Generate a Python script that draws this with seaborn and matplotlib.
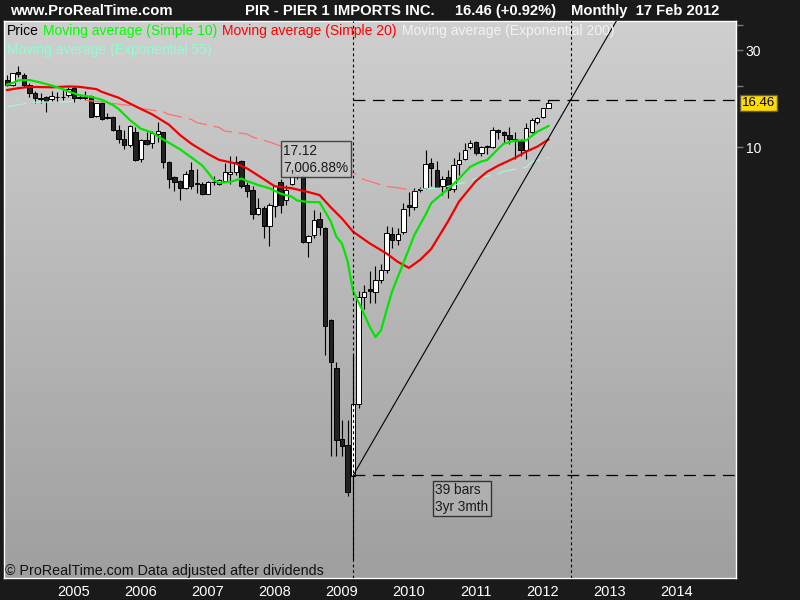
import numpy as np
import matplotlib
matplotlib.use("Agg")
import matplotlib.pyplot as plt
import matplotlib.transforms as mtransforms
from matplotlib.colors import LinearSegmentedColormap
from matplotlib.patches import Rectangle
from matplotlib.ticker import NullLocator, NullFormatter
import seaborn as sns

plt.rcParams['font.family'] = ['Liberation Sans', 'DejaVu Sans']
plt.rcParams['lines.scale_dashes'] = False

# monthly bars, index 0 = Jan 2004 ... 97 = Feb 2012
opens = [21.5, 20.3, 23.5, 22.6, 20.3, 18.5, 17.3, 17.6, 17.2, 17.6, 17.7, 18.0,
         19.5, 17.4, 17.6, 17.9, 14.3, 16.4, 14.0, 14.0, 12.2, 11.0, 10.2, 11.8,
         8.7, 10.8, 10.5, 11.55, 11.8, 8.4, 7.1, 6.8, 6.3, 7.7, 6.6, 6.6,
         5.9, 6.7, 6.6, 6.8, 7.4, 7.5, 8.5, 6.5, 6.15, 4.7, 5.0, 4.1,
         5.15, 6.75, 5.5, 6.6, 7.3, 7.2, 3.42, 3.7, 4.4, 4.0, 1.40, 0.82,
         0.365, 0.34, 0.24, 0.545, 1.83, 2.0, 1.94, 2.21, 2.48, 3.75, 3.48, 3.82,
         5.18, 5.06, 6.15, 6.3, 8.3, 7.7, 6.4, 7.1, 6.2, 8.25, 8.7, 10.0,
         10.6, 9.3, 9.97, 10.0, 12.2, 11.9, 11.45, 10.9, 10.75, 9.7, 11.8, 13.3,
         14.1, 15.6]
highs = [22.6, 23.3, 25.0, 23.2, 20.6, 18.8, 18.4, 17.8, 18.8, 18.6, 19.0, 19.7,
         19.9, 18.2, 18.9, 18.0, 16.5, 16.6, 14.7, 14.2, 12.8, 12.1, 12.8, 12.6,
         10.9, 11.9, 12.0, 13.3, 11.9, 8.5, 7.2, 6.9, 7.6, 8.4, 7.8, 6.7,
         6.8, 7.2, 7.0, 8.3, 9.0, 9.0, 8.6, 6.7, 6.4, 5.6, 5.1, 5.3,
         6.5, 7.0, 6.5, 7.6, 8.3, 7.4, 3.7, 4.9, 4.8, 4.05, 1.42, 0.87,
         0.45, 0.45, 0.95, 1.95, 2.08, 2.45, 2.6, 2.65, 4.1, 4.05, 4.0, 5.3,
         6.0, 6.3, 6.35, 9.7, 8.8, 8.5, 7.2, 7.7, 8.8, 9.5, 10.5, 10.8,
         10.7, 10.1, 10.2, 12.5, 12.3, 12.0, 12.5, 11.9, 10.9, 13.1, 13.9, 14.0,
         15.6, 17.1]
lows = [19.9, 20.0, 22.2, 19.7, 17.7, 16.4, 16.4, 14.9, 16.9, 16.9, 17.0, 17.7,
        16.6, 17.2, 17.0, 14.0, 14.0, 13.6, 13.7, 12.0, 10.5, 9.75, 10.0, 8.55,
        8.4, 10.2, 9.9, 10.6, 7.85, 6.3, 6.1, 5.5, 6.2, 6.25, 5.95, 5.8,
        5.85, 6.5, 6.5, 6.8, 6.6, 7.3, 6.3, 5.7, 4.4, 4.65, 3.55, 3.25,
        4.5, 4.75, 5.2, 6.5, 7.0, 3.35, 2.88, 3.56, 3.7, 0.95, 0.30, 0.30,
        0.30, 0.19, 0.093, 0.52, 1.6, 1.7, 1.7, 2.15, 2.4, 3.17, 3.3, 3.75,
        4.55, 4.9, 6.0, 6.2, 6.4, 6.3, 5.8, 5.6, 6.0, 7.3, 8.6, 9.8,
        9.1, 9.0, 9.2, 9.9, 11.0, 10.5, 10.3, 8.7, 9.0, 8.7, 11.7, 13.0,
        13.9, 15.5]
closes = [20.3, 23.2, 23.0, 20.3, 18.4, 17.4, 17.5, 16.9, 17.8, 17.7, 17.6, 19.4,
          17.4, 17.7, 17.5, 14.1, 16.4, 13.8, 13.9, 12.1, 11.0, 10.2, 12.7, 8.6,
          10.8, 10.4, 11.7, 12.0, 8.4, 6.95, 6.7, 6.3, 7.4, 6.4, 6.6, 5.9,
          6.75, 6.75, 6.9, 7.5, 7.5, 8.45, 6.4, 6.1, 4.7, 5.0, 4.1, 5.2,
          6.4, 5.2, 6.15, 7.3, 7.9, 3.42, 3.65, 4.37, 4.05, 1.32, 0.87, 0.36,
          0.335, 0.20, 0.545, 1.83, 1.93, 1.95, 2.22, 2.48, 3.78, 3.48, 3.72, 4.98,
          5.06, 6.1, 6.25, 8.25, 7.85, 6.35, 6.95, 6.15, 8.15, 8.6, 9.7, 10.5,
          9.3, 10.0, 10.1, 12.1, 11.8, 11.45, 10.95, 10.75, 9.7, 12.4, 13.6, 13.9,
          15.5, 16.46]

years = list(range(2005, 2015))

# moving averages (month index, value)
sma10_m = [0, 1, 2, 4, 6, 8, 10, 11, 13, 15, 17, 19, 20, 22, 24, 26, 27, 29, 31, 33,
           35, 36, 37, 38, 40, 42, 43, 45, 47, 49, 51, 52, 54, 56, 57, 58, 59, 60, 61, 62,
           63, 65, 66, 67, 68, 69, 71, 73, 75, 76, 78, 79, 81, 83, 85, 86, 88, 89, 91, 93,
           95, 97]
sma10 = [20.3, 20.7, 21.3, 21.4, 20.8, 20.1, 19.3, 18.8, 18.0, 17.7, 17.1, 16.1, 15.4, 13.6,
         12.3, 11.8, 11.3, 10.5, 9.75, 8.9, 8.1, 7.5, 6.9, 6.66, 6.74, 7.0, 6.8, 6.5, 6.27,
         5.9, 5.7, 5.45, 5.36, 5.35, 4.8, 4.3, 3.62, 3.35, 2.75, 1.95, 1.72, 1.30, 1.16,
         1.25, 1.57, 1.95, 2.68, 3.7, 4.65, 5.3, 5.9, 6.2, 7.0, 8.0, 8.5, 8.63, 9.8, 10.4,
         10.75, 10.8, 11.9, 12.7]
sma20_m = [0, 2, 4, 8, 11, 13, 16, 17, 20, 22, 24, 26, 29, 31, 33, 36, 38, 41, 43, 46,
           48, 51, 54, 56, 58, 60, 62, 65, 68, 70, 72, 74, 76, 79, 81, 84, 86, 88, 91, 93,
           95, 97]
sma20 = [19.1, 19.5, 19.8, 19.7, 19.9, 19.8, 19.3, 18.7, 17.5, 16.4, 15.4, 14.5, 12.9, 11.46,
         10.4, 9.25, 8.65, 8.3, 7.85, 6.95, 6.4, 6.27, 6.0, 5.8, 5.05, 4.45, 3.83, 3.35,
         2.99, 2.72, 2.54, 2.78, 3.15, 4.3, 5.4, 6.8, 7.55, 8.1, 8.85, 9.5, 10.05, 10.9]
ema200_m = [14, 17, 19, 23, 24, 28, 29, 33, 34, 38, 39, 43, 44, 47, 62, 64, 68, 70, 73]
ema200 = [17.0, 16.7, 16.4, 15.9, 15.5, 14.9, 14.5, 13.7, 13.2, 12.5, 12.0, 11.6, 11.2,
          10.6, 7.5, 6.9, 6.4, 6.3, 6.1]
ema55_early_m = [0, 3, 4, 8, 9, 12]
ema55_early = [15.8, 16.3, 16.6, 16.7, 16.6, 16.8]
ema55_late_m = [74, 78, 80, 83, 84, 88, 89, 93, 94, 97]
ema55_late = [6.2, 6.3, 6.5, 6.8, 7.0, 7.37, 7.6, 7.95, 8.45, 8.9]

# measurement tool: Mar 2009 -> Jun 2012
start_bar, end_bar = 62, 101
start_val, end_val = 0.2409, 17.12

W, H = 800, 600


def fpos(x, y):
    return x / W, 1 - y / H


fig = plt.figure(figsize=(8, 6), dpi=100, facecolor='#1a1a1a')
left, right, top, bottom = 4, 736, 21, 578
rect = [left / W, 1 - bottom / H, (right - left) / W, (bottom - top) / H]

bg = fig.add_axes(rect, zorder=0)
grad = LinearSegmentedColormap.from_list('bg', ['#cfcfcf', '#9f9f9f'])
bg.imshow(np.linspace(0, 1, 256).reshape(-1, 1), cmap=grad, aspect='auto', extent=[0, 1, 0, 1])
bg.set_xlim(0, 1)
bg.set_ylim(0, 1)
bg.axis('off')

ax = fig.add_axes(rect, zorder=1)
ax.patch.set_alpha(0)
ax.set_yscale('log')

# candles
months = np.arange(len(closes))
o = np.array(opens)
c = np.array(closes)
up = c >= o
ax.vlines(months, lows, highs, color='black', lw=0.8, zorder=3)
ax.bar(months, np.maximum(np.abs(c - o), 0.004 * c), bottom=np.minimum(o, c), width=0.78,
       color=np.where(up, 'white', '#222222'), edgecolor='black', lw=0.7, zorder=4)

# moving averages
sns.lineplot(x=ema200_m, y=ema200, ax=ax, color='#ff7070', lw=0.9, linestyle=(0, (14, 5)), zorder=5)
sns.lineplot(x=ema55_early_m, y=ema55_early, ax=ax, color='#a8f5d2', lw=0.9, linestyle=(0, (14, 5)), zorder=5)
sns.lineplot(x=ema55_late_m, y=ema55_late, ax=ax, color='#a8f5d2', lw=0.9, linestyle=(0, (14, 5)), zorder=5)
sns.lineplot(x=sma20_m, y=sma20, ax=ax, color='#f00000', lw=1.6, zorder=6)
sns.lineplot(x=sma10_m, y=sma10, ax=ax, color='#00e600', lw=1.6, zorder=6)

xmin, xmax = -0.54, 130.6
ymin, ymax = 0.0753, 41.8

# measurement lines
for b in (start_bar, end_bar):
    ax.axvline(b, color='black', lw=0.8, linestyle=(0, (2, 2)), zorder=7)
ax.hlines([end_val, start_val], start_bar, xmax, colors='black', lw=0.9,
          linestyles=[(0, (8.5, 5.5))], zorder=7)
slope = np.log10(end_val / start_val) / (end_bar - start_bar)
far_bar = 118
ax.plot([start_bar, far_bar], [start_val, start_val * 10 ** (slope * (far_bar - start_bar))],
        color='black', lw=0.8, zorder=7)

ax.set_xlim(xmin, xmax)
ax.set_ylim(ymin, ymax)

# axes styling
ax.yaxis.tick_right()
ax.set_yticks([10, 20, 30, 40])
ax.set_yticklabels(['10', '', '30', ''])
ax.yaxis.set_minor_locator(NullLocator())
ax.yaxis.set_minor_formatter(NullFormatter())
ax.tick_params(axis='y', colors='#7a7a7a', labelcolor='white', length=5, width=1, labelsize=10, pad=2)
ax.set_xticks([12 * (y - 2004) for y in years])
ax.set_xticklabels([str(y) for y in years])
ax.tick_params(axis='x', length=0, labelcolor='white', labelsize=10.5, pad=5)
ax.set_xlabel('')
ax.set_ylabel('')
for s in ax.spines.values():
    s.set_color('white')
    s.set_linewidth(1)

# last price tag
blend = mtransforms.blended_transform_factory(ax.transAxes, ax.transData)
ax.text(1.0075, closes[-1], f'{closes[-1]:.2f}', transform=blend, ha='left', va='center',
        fontsize=9.5, color='black',
        bbox=dict(boxstyle='square,pad=0.15', fc='#ffdc00', ec='#5a5a5a', lw=1), clip_on=False)

# header
hdr = dict(color='white', fontsize=10.6, fontweight='bold', va='center')
fig.text(*fpos(10, 11), 'www.ProRealTime.com', **hdr)
fig.text(*fpos(245, 11), 'PIR - PIER 1 IMPORTS INC.', **hdr)
fig.text(*fpos(455, 11), '16.46 (+0.92%)', **hdr)
fig.text(*fpos(571, 11), 'Monthly  17 Feb 2012', **hdr)

# indicator legend
legend_row1 = [(7, 'Price', 'black'),
               (43, 'Moving average (Simple 10)', '#00ff00'),
               (222, 'Moving average (Simple 20)', '#ff0000'),
               (402, 'Moving average (Exponential 200)', '#f2f2f2')]
for x, label, col in legend_row1:
    fig.text(*fpos(x, 31), label, color=col, fontsize=10, va='center', zorder=5)
fig.text(*fpos(7, 50), 'Moving average (Exponential 55)', color='#8fffd0', fontsize=10, va='center', zorder=5)

fig.text(*fpos(5, 571), '\u00a9 ProRealTime.com Data adjusted after dividends', color='#111111',
         fontsize=10.3, va='center', zorder=5)

# measurement boxes
ax.add_patch(Rectangle(fpos(281, 177), 70 / W, 36 / H, transform=fig.transFigure, fc='#c6c6c6',
                       ec='#3a3a3a', lw=1, alpha=0.93, zorder=10, clip_on=False))
ax.text(*fpos(283, 151), f'{end_val:.2f}', transform=fig.transFigure, fontsize=9.8,
        color='#1a1a1a', va='center', zorder=11)
ax.text(*fpos(283, 168), '7,006.88%', transform=fig.transFigure, fontsize=9.8,
        color='#1a1a1a', va='center', zorder=11)

ax.add_patch(Rectangle(fpos(433, 516), 58 / W, 35 / H, transform=fig.transFigure, fc='#b0b0b0',
                       ec='#2a2a2a', lw=1, alpha=0.93, zorder=10, clip_on=False))
ax.text(*fpos(435, 490), f'{end_bar - start_bar} bars', transform=fig.transFigure, fontsize=9.8,
        color='#1a1a1a', va='center', zorder=11)
ax.text(*fpos(435, 507), '3yr 3mth', transform=fig.transFigure, fontsize=9.8,
        color='#1a1a1a', va='center', zorder=11)

fig.savefig('out.png', dpi=100, facecolor=fig.get_facecolor())
